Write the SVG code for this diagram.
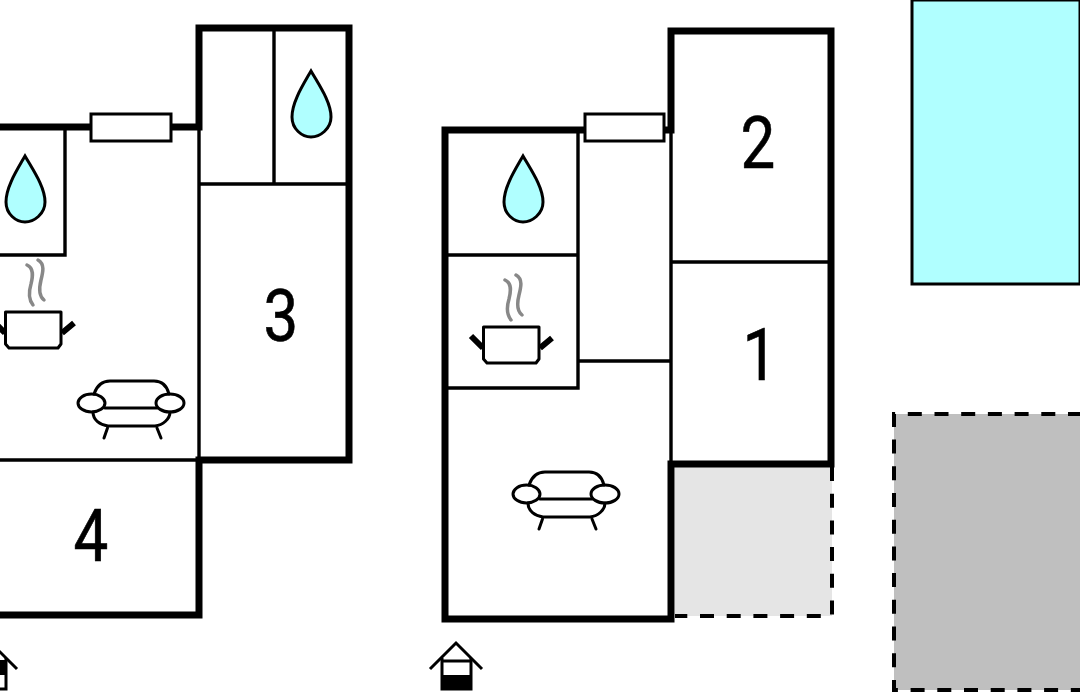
<svg xmlns="http://www.w3.org/2000/svg" width="1080" height="700" viewBox="0 0 1080 700">
<style>
.thick{fill:none;stroke:#000;stroke-width:7;stroke-linecap:square}
.thin{fill:none;stroke:#000;stroke-width:3.4;stroke-linecap:square}
.win{fill:#fff;stroke:#000;stroke-width:3}
.icon{fill:none;stroke:#000;stroke-width:3;stroke-linecap:round;stroke-linejoin:round}
.dash{fill:none;stroke:#000;stroke-width:4;stroke-dasharray:14 12.7}
.num{font-family:Roboto,"Liberation Sans",sans-serif;font-size:72px;fill:#000;stroke:#000;stroke-width:.6;text-anchor:middle}
</style>
<defs>
<path id="drop" d="M0 0C-8 14-19 31-19 46C-19 58-9 66 0 66C9 66 20 58 20 46C20 31 8 14 0 0Z" fill="#b0ffff" stroke="#000" stroke-width="3"/>
<g id="pot">
<path d="M27 265C34 268 33 276 31 284C28 294 29 300 33 305M38 260C45 264 43 272 41 280C39 288 39 296 44 300" fill="none" stroke="#888" stroke-width="3.500" stroke-linecap="round"/>
<path d="M5.500 312H61V344L58 348H9L5.500 344Z" fill="#fff" stroke="#000" stroke-width="3" stroke-linejoin="round"/>
<path d="M62 333L74 323M5 333L-7 321" fill="none" stroke="#000" stroke-width="6"/>
</g>
<g id="sofa">
<path class="icon" d="M94 394C97 385 103 381 110 381H154C162 381 167 386 169 394"/>
<path class="icon" d="M105 408H157"/>
<path class="icon" d="M93 412C93 420 100 425 108 426H155C163 425 170 419 170 412"/>
<ellipse class="icon" cx="91.500" cy="403" rx="13.500" ry="9"/>
<ellipse class="icon" cx="170" cy="403" rx="14" ry="9"/>
<path class="icon" d="M107.500 428L104 438M157 428L161 438"/>
</g>
</defs>

<g id="pool"><rect x="912" y="0" width="168" height="284" fill="#b0ffff" stroke="#000" stroke-width="3"/></g>
<g id="parking"><rect x="894" y="414" width="188" height="276" fill="#bfbfbf"/><path class="dash" d="M1082 414H894V690H1082"/></g>
<g id="terrace"><rect x="675" y="467" width="157" height="149" fill="#e5e5e5"/><path class="dash" d="M832 467V616H675"/></g>

<g id="plan-left">
<path class="thin" d="M0 255H65V127M199 130V460M199 184H349M274 28V184M0 460H199"/>
<path class="thick" d="M0 127H199M199 127V28H349V460H199M199 460V615H0"/>
<rect class="win" x="91" y="114" width="80" height="27"/>
</g>
<g id="plan-right">
<path class="thin" d="M578 130V388H445M445 255H578M578 361H671M671 133V464M671 262H831"/>
<path class="thick" d="M671 130V31H831V464H671M671 464V619H445V130H585M664 130H671"/>
<rect class="win" x="585" y="114" width="79" height="27"/>
</g>

<g id="bath-1"><use href="#drop" x="25" y="156"/></g>
<g id="bath-2"><use href="#drop" x="311" y="71"/></g>
<g id="bath-3"><use href="#drop" x="523" y="156"/></g>
<g id="kitchen-1"><use href="#pot"/></g>
<g id="kitchen-2"><use href="#pot" x="478" y="15"/></g>
<g id="living-1"><use href="#sofa"/></g>
<g id="living-2"><use href="#sofa" x="435" y="91"/></g>

<g id="labels">
<text class="num" transform="translate(758 168) scale(.86 1)">2</text>
<text class="num" transform="translate(760 380) scale(.86 1)">1</text>
<text class="num" transform="translate(281 341) scale(.86 1)">3</text>
<text class="num" transform="translate(91 561) scale(.86 1)">4</text>
</g>

<g id="house-left">
<rect x="-23" y="660" width="29" height="15" fill="#000"/>
<path d="M-23 658V689H6V658" fill="none" stroke="#000" stroke-width="3"/>
<path d="M-35 669L-9 643L17 669" fill="none" stroke="#000" stroke-width="3"/>
</g>
<g id="house-right">
<rect x="442" y="675" width="29" height="14" fill="#000"/>
<path d="M442 658V689H471V658M442 661H471" fill="none" stroke="#000" stroke-width="3"/>
<path d="M430 669L456 643L482 669" fill="none" stroke="#000" stroke-width="3"/>
</g>
</svg>
